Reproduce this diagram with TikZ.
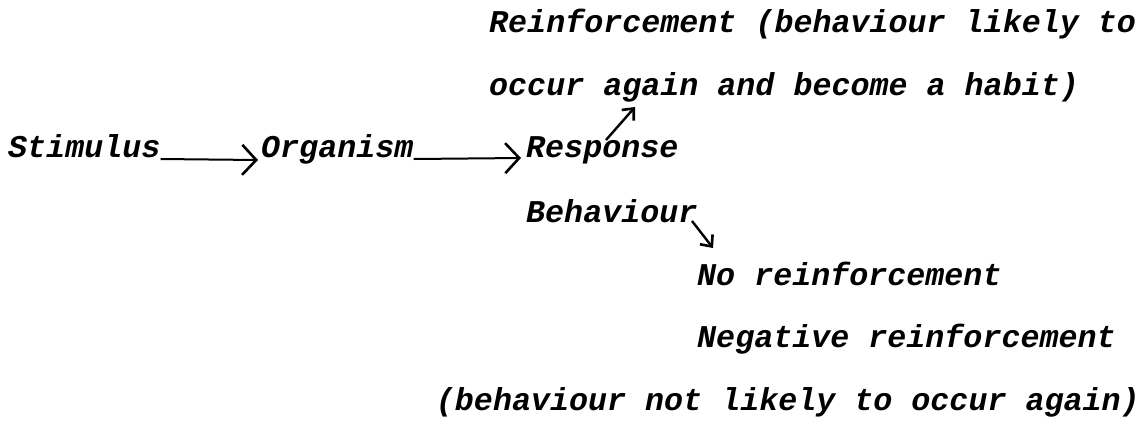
\documentclass[tikz,border=0pt]{standalone}
\usepackage{fontspec}
\setmonofont{Liberation Mono}
\usetikzlibrary{arrows.meta}
\tikzset{
  lbl/.style={anchor=base west, inner sep=0pt, font=\ttfamily\bfseries\itshape\fontsize{31.7}{32}\selectfont},
  harr/.style={line width=2pt, -{Straight Barb[length=14pt,width=30pt,line width=2.6pt]}},
  darr/.style={line width=2.4pt, -{Straight Barb[length=9pt,width=16pt,line width=2.6pt]}},
}
\begin{document}
\begin{tikzpicture}[x=1pt,y=-1pt]
\useasboundingbox (0,0) rectangle (1147,421);
\node[lbl] (reinf1) at (489,32) {Reinforcement (behaviour likely to};
\node[lbl] (reinf2) at (489,95) {occur again and become a habit)};
\node[lbl] (stim) at (8,157) {Stimulus};
\node[lbl] (org) at (261,157) {Organism};
\node[lbl] (resp) at (526,157) {Response};
\node[lbl] (beh) at (526,222) {Behaviour};
\node[lbl] (nore) at (697,285) {No reinforcement};
\node[lbl] (neg) at (697,347) {Negative reinforcement};
\node[lbl, anchor=base east] (neg2) at (1140,410) {(behaviour not likely to occur again)};
\coordinate (respup) at (606,140);
\coordinate (againdn) at (635,107);
\coordinate (behend) at (692,221);
\coordinate (nouptip) at (713,248);
\draw[harr] ([yshift=-2pt]stim.base east) -- ([xshift=-3pt,yshift=-3pt]org.base west);
\draw[harr] ([yshift=-2pt]org.base east) -- ([xshift=-5pt,yshift=-1pt]resp.base west);
\draw[darr] (respup) -- (againdn);
\draw[darr] (behend) -- (nouptip);
\end{tikzpicture}
\end{document}
